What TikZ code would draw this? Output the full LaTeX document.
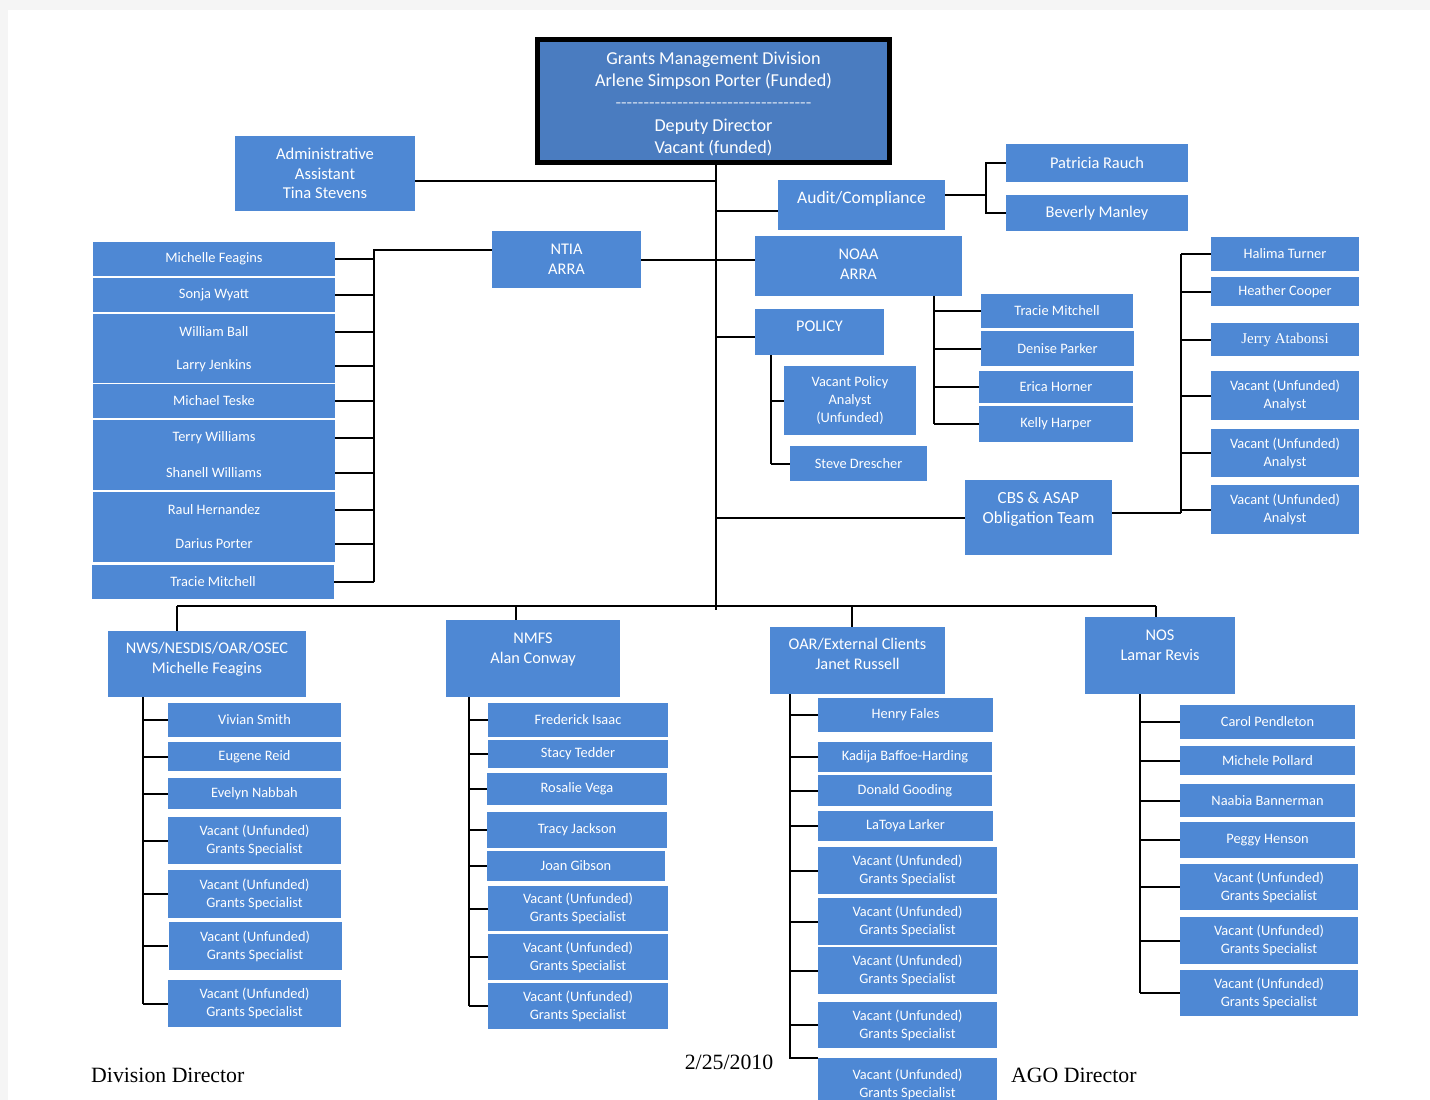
\documentclass[tikz,border=0pt]{standalone}
\usepackage{fontspec}
\setmainfont{Carlito}
\newfontfamily\timesfont{Liberation Serif}
\definecolor{boxblue}{RGB}{78,136,212}
\definecolor{topblue}{RGB}{74,124,192}
\tikzstyle{box} = [fill=boxblue, text=white, align=center, inner sep=0pt, font={\fontsize{14.4}{18}\selectfont}]
\tikzstyle{head} = [box, font={\fontsize{16.3}{20}\selectfont}]
\tikzstyle{conn} = [line width=2pt]
\tikzstyle{foot} = [inner sep=0pt, font={\timesfont\fontsize{21.8}{24}\selectfont}]

\begin{document}
\begin{tikzpicture}[x=1pt,y=-1pt]
    \useasboundingbox (0,0) rectangle (1430,1100);
    \fill[gray!8] (0,0) rectangle (1430,1100);
    \fill[white] (8,10) rectangle (1430,1100);
    \node[box,fill=topblue,draw=black,line width=5pt,minimum width=352pt,minimum height=123pt,text height=107pt,font={\fontsize{18.2}{22.2}\selectfont}](top) at (713.5,101){Grants Management Division\\Arlene Simpson Porter (Funded)\\{\color{white!75!topblue}\makebox[196pt]{\xleaders\hbox{-}\hfill}}\\Deputy Director\\Vacant (funded)};
    \node[box,minimum width=180pt,minimum height=75pt,font={\fontsize{16.6}{19.5}\selectfont}](admin) at (325,173.5){Administrative\\Assistant\\Tina Stevens};
    \node[box,minimum width=167pt,minimum height=50pt,font={\fontsize{17.5}{20}\selectfont},text depth=16pt](audit) at (861.5,205){Audit/Compliance};
    \node[box,minimum width=182pt,minimum height=38pt,font={\fontsize{16.4}{18}\selectfont}](pr) at (1097,163){Patricia Rauch};
    \node[box,minimum width=182pt,minimum height=36pt,font={\fontsize{16.4}{18}\selectfont}](bm) at (1097,213){Beverly Manley};
    \node[head,minimum width=149pt,minimum height=57pt](ntia) at (566.5,259.5){NTIA\\ARRA};
    \node[head,minimum width=207pt,minimum height=60pt,text depth=4pt](noaa) at (858.5,266){NOAA\\ARRA};
    \node[head,minimum width=129pt,minimum height=46pt,text depth=12pt](policy) at (819.5,332){POLICY};
    \node[box,minimum width=132pt,minimum height=69pt](vpa) at (850,400.5){Vacant Policy\\Analyst\\(Unfunded)};
    \node[box,minimum width=137pt,minimum height=35pt](sd) at (858.5,463.5){Steve Drescher};
    \node[box,minimum width=152pt,minimum height=34pt](tmn) at (1057,311){Tracie Mitchell};
    \node[box,minimum width=153pt,minimum height=35pt](dpk) at (1057.5,348.5){Denise Parker};
    \node[box,minimum width=154pt,minimum height=32pt](eh) at (1056,387){Erica Horner};
    \node[box,minimum width=154pt,minimum height=36pt](kh) at (1056,424){Kelly Harper};
    \node[head,minimum width=147pt,minimum height=75pt,font={\fontsize{17}{20}\selectfont},text depth=19pt](cbs) at (1038.5,517.5){CBS \& ASAP\\Obligation Team};
    \node[box,minimum width=148pt,minimum height=34pt](ht) at (1285,254){Halima Turner};
    \node[box,minimum width=148pt,minimum height=29pt](hc) at (1285,291.5){Heather Cooper};
    \node[box,minimum width=148pt,minimum height=33pt,font={\timesfont\fontsize{14.9}{18}\selectfont}](ja) at (1285,339.5){Jerry Atabonsi};
    \node[box,minimum width=148pt,minimum height=49pt](va1) at (1285,395.5){Vacant (Unfunded)\\Analyst};
    \node[box,minimum width=148pt,minimum height=48pt](va2) at (1285,453){Vacant (Unfunded)\\Analyst};
    \node[box,minimum width=148pt,minimum height=49pt](va3) at (1285,509.5){Vacant (Unfunded)\\Analyst};
    \node[box,minimum width=242pt,minimum height=34pt](mf) at (214,259){Michelle Feagins};
    \node[box,minimum width=242pt,minimum height=34pt](sw) at (214,295){Sonja Wyatt};
    \node[box,minimum width=242pt,minimum height=35pt](wb) at (214,331.5){William Ball};
    \node[box,minimum width=242pt,minimum height=35pt](lj) at (214,365.5){Larry Jenkins};
    \node[box,minimum width=242pt,minimum height=34pt](mt) at (214,401){Michael Teske};
    \node[box,minimum width=242pt,minimum height=36pt](tw) at (214,438){Terry Williams};
    \node[box,minimum width=242pt,minimum height=35pt](shw) at (214,472.5){Shanell Williams};
    \node[box,minimum width=242pt,minimum height=35pt](rh) at (214,509.5){Raul Hernandez};
    \node[box,minimum width=242pt,minimum height=36pt](dp) at (214,544){Darius Porter};
    \node[box,minimum width=242pt,minimum height=34pt](tm) at (213,582){Tracie Mitchell};
    \node[head,minimum width=198pt,minimum height=66pt,text depth=12pt](nws) at (207,664){NWS/NESDIS/OAR/OSEC\\Michelle Feagins};
    \node[head,minimum width=174pt,minimum height=77pt,text depth=21pt](nmfs) at (533,658.5){NMFS\\Alan Conway};
    \node[head,minimum width=175pt,minimum height=67pt,text depth=13pt](oar) at (857.5,660.5){OAR/External Clients\\Janet Russell};
    \node[head,minimum width=150pt,minimum height=77pt,text depth=20pt](nos) at (1160,655.5){NOS\\Lamar Revis};
    \node[box,minimum width=173pt,minimum height=34pt](n1) at (254.5,720){Vivian Smith};
    \node[box,minimum width=173pt,minimum height=29pt](n2) at (254.5,756.5){Eugene Reid};
    \node[box,minimum width=173pt,minimum height=31pt](n3) at (254.5,793.5){Evelyn Nabbah};
    \node[box,minimum width=173pt,minimum height=47pt](n4) at (254.5,840.5){Vacant (Unfunded)\\Grants Specialist};
    \node[box,minimum width=173pt,minimum height=48pt](n5) at (254.5,894){Vacant (Unfunded)\\Grants Specialist};
    \node[box,minimum width=173pt,minimum height=48pt](n6) at (255,946){Vacant (Unfunded)\\Grants Specialist};
    \node[box,minimum width=173pt,minimum height=47pt](n7) at (254.5,1003.5){Vacant (Unfunded)\\Grants Specialist};
    \node[box,minimum width=180pt,minimum height=34pt](f1) at (578,720){Frederick Isaac};
    \node[box,minimum width=180pt,minimum height=28pt](f2) at (578,754){Stacy Tedder};
    \node[box,minimum width=180pt,minimum height=32pt](f3) at (577,789){Rosalie Vega};
    \node[box,minimum width=180pt,minimum height=36pt](f4) at (577,830){Tracy Jackson};
    \node[box,minimum width=178pt,minimum height=30pt](f5) at (576,866){Joan Gibson};
    \node[box,minimum width=180pt,minimum height=45pt](f6) at (578,908.5){Vacant (Unfunded)\\Grants Specialist};
    \node[box,minimum width=180pt,minimum height=46pt](f7) at (578,957){Vacant (Unfunded)\\Grants Specialist};
    \node[box,minimum width=180pt,minimum height=46pt](f8) at (578,1006){Vacant (Unfunded)\\Grants Specialist};
    \node[box,minimum width=175pt,minimum height=34pt](o1) at (905.5,715){Henry Fales};
    \node[box,minimum width=174pt,minimum height=30pt](o2) at (905,757){Kadija Baffoe-Harding};
    \node[box,minimum width=174pt,minimum height=31pt](o3) at (905,790.5){Donald Gooding};
    \node[box,minimum width=175pt,minimum height=30pt](o4) at (905.5,826){LaToya Larker};
    \node[box,minimum width=179pt,minimum height=47pt](o5) at (907.5,870.5){Vacant (Unfunded)\\Grants Specialist};
    \node[box,minimum width=179pt,minimum height=47pt](o6) at (907.5,921.5){Vacant (Unfunded)\\Grants Specialist};
    \node[box,minimum width=179pt,minimum height=47pt](o7) at (907.5,970.5){Vacant (Unfunded)\\Grants Specialist};
    \node[box,minimum width=179pt,minimum height=46pt](o8) at (907.5,1025){Vacant (Unfunded)\\Grants Specialist};
    \node[box,minimum width=179pt,minimum height=52pt](o9) at (907.5,1084){Vacant (Unfunded)\\Grants Specialist};
    \node[box,minimum width=175pt,minimum height=34pt](s1) at (1267.5,722){Carol Pendleton};
    \node[box,minimum width=175pt,minimum height=29pt](s2) at (1267.5,760.5){Michele Pollard};
    \node[box,minimum width=175pt,minimum height=33pt](s3) at (1267.5,800.5){Naabia Bannerman};
    \node[box,minimum width=175pt,minimum height=36pt](s4) at (1267.5,840){Peggy Henson};
    \node[box,minimum width=178pt,minimum height=46pt](s5) at (1269,887){Vacant (Unfunded)\\Grants Specialist};
    \node[box,minimum width=178pt,minimum height=47pt](s6) at (1269,940.5){Vacant (Unfunded)\\Grants Specialist};
    \node[box,minimum width=178pt,minimum height=46pt](s7) at (1269,993){Vacant (Unfunded)\\Grants Specialist};
    \node[foot,anchor=west](dd) at (91,1075){Division Director};
    \node[foot](date) at (729,1062){2/25/2010};
    \node[foot,anchor=west](ago) at (1011,1075){AGO Director};
    \coordinate (bus) at (716,606);
    \coordinate (lb) at (374,250);
    \coordinate (ab) at (986,0);
    \coordinate (nb) at (934,0);
    \coordinate (pb) at (771,0);
    \coordinate (rb) at (1181,0);
    \coordinate (d1) at (177,606);
    \coordinate (d2) at (516,606);
    \coordinate (d3) at (852,606);
    \coordinate (d4) at (1156,606);
    \coordinate (v1) at (143,0);
    \coordinate (v2) at (469,0);
    \coordinate (v3) at (790,0);
    \coordinate (v4) at (1140,0);
    \draw[conn](top.south -| bus)--([yshift=-4pt]bus);
    \draw[conn]([yshift=-7.5pt]admin.east)--([yshift=-7.5pt]admin.east -| bus);
    \draw[conn]([yshift=-6pt]audit.west)--([yshift=-6pt]audit.west -| bus);
    \draw[conn]([yshift=10pt]audit.east)--([yshift=10pt]audit.east -| ab);
    \draw[conn](pr.west)--(pr.west -| ab)--(bm.west -| ab)--(bm.west);
    \draw[conn](ntia.east)--(ntia.east -| noaa.west);
    \draw[conn](ntia.west |- lb)--(lb)--(lb |- tm.east);
    \foreach \n in {mf,sw,wb,lj,mt,tw,shw,rh,dp,tm}
        \draw[conn](\n.east)--(\n.east -| lb);
    \draw[conn](noaa.south -| nb)--(kh.west -| nb);
    \foreach \n in {tmn,dpk,eh,kh}
        \draw[conn](\n.west -| nb)--(\n.west);
    \draw[conn]([yshift=-5pt]policy.west)--([yshift=-5pt]policy.west -| bus);
    \draw[conn](policy.south -| pb)--(sd.west -| pb);
    \foreach \n in {vpa,sd}
        \draw[conn](\n.west -| pb)--(\n.west);
    \draw[conn](cbs.west)--(cbs.west -| bus);
    \draw[conn]([yshift=5pt]cbs.east)--([yshift=5pt]cbs.east -| rb);
    \draw[conn](ht.west -| rb)--([yshift=5pt]cbs.east -| rb);
    \foreach \n in {ht,hc,ja,va1,va2,va3}
        \draw[conn](\n.west -| rb)--(\n.west);
    \draw[conn](d1)--(d4);
    \draw[conn](d1)--(d1 |- nws.north);
    \draw[conn](d2)--(d2 |- nmfs.north);
    \draw[conn](d3)--(d3 |- oar.north);
    \draw[conn](d4)--(d4 |- nos.north);
    \draw[conn](nws.south -| v1)--(n7.west -| v1);
    \foreach \n in {n1,n2,n3,n4,n5,n6,n7}
        \draw[conn](\n.west -| v1)--(\n.west);
    \draw[conn](nmfs.south -| v2)--(f8.west -| v2);
    \foreach \n in {f1,f2,f3,f4,f5,f6,f7,f8}
        \draw[conn](\n.west -| v2)--(\n.west);
    \draw[conn](oar.south -| v3)--(o9.north -| v3)--(o9.north west);
    \foreach \n in {o1,o2,o3,o4,o5,o6,o7,o8}
        \draw[conn](\n.west -| v3)--(\n.west);
    \draw[conn](nos.south -| v4)--(s7.west -| v4);
    \foreach \n in {s1,s2,s3,s4,s5,s6,s7}
        \draw[conn](\n.west -| v4)--(\n.west);
\end{tikzpicture}
\end{document}
